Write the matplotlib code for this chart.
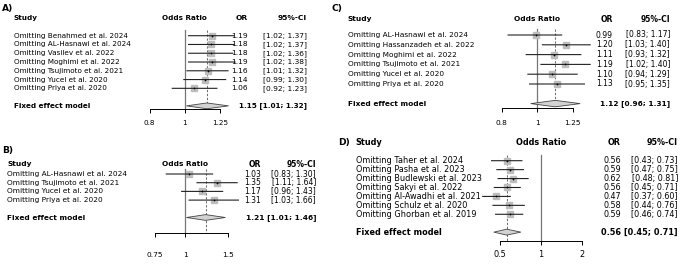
import matplotlib
matplotlib.use("Agg")
import matplotlib.pyplot as plt
from matplotlib import transforms
from matplotlib.ticker import NullLocator

W, H = 685, 264

# A) leave-one-out
a_studies = ["Omitting Benahmed et al. 2024", "Omitting AL-Hasnawi et al. 2024",
             "Omitting Vasilev et al. 2022", "Omitting Moghimi et al. 2022",
             "Omitting Tsujimoto et al. 2021", "Omitting Yucel et al. 2020",
             "Omitting Priya et al. 2020"]
a_or = [1.19, 1.18, 1.18, 1.19, 1.16, 1.14, 1.06]
a_lo = [1.02, 1.02, 1.02, 1.02, 1.01, 0.99, 0.92]
a_hi = [1.37, 1.37, 1.36, 1.38, 1.32, 1.30, 1.23]
a_fixed = [1.15, 1.01, 1.32]
a_ticks = [0.8, 1, 1.25]
a_ticklabels = ["0.8", "1", "1.25"]

# B)
b_studies = ["Omitting AL-Hasnawi et al. 2024", "Omitting Tsujimoto et al. 2021",
             "Omitting Yucel et al. 2020", "Omitting Priya et al. 2020"]
b_or = [1.03, 1.35, 1.17, 1.31]
b_lo = [0.83, 1.11, 0.96, 1.03]
b_hi = [1.30, 1.64, 1.43, 1.66]
b_fixed = [1.21, 1.01, 1.46]
b_ticks = [0.75, 1, 1.5]
b_ticklabels = ["0.75", "1", "1.5"]

# C)
c_studies = ["Omitting AL-Hasnawi et al. 2024", "Omitting Hassanzadeh et al. 2022",
             "Omitting Moghimi et al. 2022", "Omitting Tsujimoto et al. 2021",
             "Omitting Yucel et al. 2020", "Omitting Priya et al. 2020"]
c_or = [0.99, 1.20, 1.11, 1.19, 1.10, 1.13]
c_lo = [0.83, 1.03, 0.93, 1.02, 0.94, 0.95]
c_hi = [1.17, 1.40, 1.32, 1.40, 1.29, 1.35]
c_fixed = [1.12, 0.96, 1.31]
c_ticks = [0.8, 1, 1.25]
c_ticklabels = ["0.8", "1", "1.25"]

# D)
d_studies = ["Omitting Taher et al. 2024", "Omitting Pasha et al. 2023",
             "Omitting Budlewski et al. 2023", "Omitting Sakyi et al. 2022",
             "Omitting Al-Awadhi et al. 2021", "Omitting Schulz et al. 2020",
             "Omitting Ghorban et al. 2019"]
d_or = [0.56, 0.59, 0.62, 0.56, 0.47, 0.58, 0.59]
d_lo = [0.43, 0.47, 0.48, 0.45, 0.37, 0.44, 0.46]
d_hi = [0.73, 0.75, 0.81, 0.71, 0.60, 0.76, 0.74]
d_fixed = [0.56, 0.45, 0.71]
d_ticks = [0.5, 1, 2]
d_ticklabels = ["0.5", "1", "2"]


def forest(fig, letter, studies, est, lo, hi, fixed, ticks, ticklabels, lay):
    n = len(studies)
    sp = lay["sp"]
    fs = lay["fs"]
    nfs = lay.get("nfs", fs)
    top_row = -1.0
    axis_row = (lay["axis_y"] - lay["row0"]) / sp
    ytop = lay["row0"] + top_row * sp
    ax = fig.add_axes([lay["x0"] / W, 1 - lay["axis_y"] / H,
                       (lay["x1"] - lay["x0"]) / W, (lay["axis_y"] - ytop) / H])
    ax.set_xscale("log")
    ax.set_xlim(ticks[0], ticks[-1])
    ax.set_ylim(axis_row, top_row)
    ax.patch.set_visible(False)
    for s in ("left", "right", "top"):
        ax.spines[s].set_visible(False)
    ax.spines["bottom"].set_linewidth(0.7)
    ax.set_yticks([])
    ax.set_xticks(ticks)
    ax.xaxis.set_minor_locator(NullLocator())
    ax.set_xticklabels(ticklabels, fontsize=fs)
    ax.tick_params(axis="x", direction="out", length=3.2, width=0.7, pad=lay["pad"])

    rows = list(range(n))
    fix_row = n + 1
    ax.plot([1, 1], [-0.6, axis_row], color="#777777", lw=0.9, clip_on=False,
            zorder=1)
    ax.plot([fixed[0], fixed[0]], [-0.6, axis_row], color="#6f6f6f", lw=0.75,
            ls=(0, (2.2, 1.6)), clip_on=False, zorder=1)
    for i in rows:
        ax.plot([lo[i], hi[i]], [i, i], color="#222222", lw=0.8, clip_on=False,
                solid_capstyle="butt", snap=False, zorder=3)
    ax.plot(est, rows, ls="none", marker="s", ms=4.4, mfc="#bdbdbd", mec="#bdbdbd",
            clip_on=False, zorder=2)
    ax.plot(est, rows, ls="none", marker="+", ms=1.6, mew=0.5, color="black",
            clip_on=False, zorder=4)
    h = 0.33
    ax.fill([fixed[1], fixed[0], fixed[2], fixed[0]],
            [fix_row, fix_row - h, fix_row, fix_row + h],
            facecolor="#d3d3d3", edgecolor="#444444", lw=0.6, clip_on=False)

    tr = transforms.blended_transform_factory(fig.transFigure, ax.transData)
    hdr = (lay["hdr_y"] - lay["row0"]) / sp
    fig.text(lay["let_x"] / W, 1 - lay["let_y"] / H, letter, fontsize=6.6,
             fontweight="bold", va="center", ha="left")
    ax.text(lay["lab_x"] / W, hdr, "Study", transform=tr, ha="left", va="center",
            fontsize=fs, fontweight="bold")
    ax.text(1, hdr, "Odds Ratio", transform=ax.transData, ha="center", va="center",
            clip_on=False, fontsize=fs, fontweight="bold")
    ax.text(lay["or_x"] / W, hdr, "OR", transform=tr, ha="right", va="center",
            fontsize=nfs, fontweight="bold")
    ax.text(lay["ci_x"] / W, hdr, "95%-CI", transform=tr, ha="right", va="center",
            fontsize=nfs, fontweight="bold")
    for i in rows:
        ax.text(lay["lab_x"] / W, i, studies[i], transform=tr, ha="left", va="center",
                fontsize=fs)
        ax.text(lay["or_x"] / W, i, f"{est[i]:.2f}", transform=tr, ha="right",
                va="center", fontsize=nfs)
        ax.text(lay["ci_x"] / W, i, f"[{lo[i]:.2f}; {hi[i]:.2f}]", transform=tr,
                ha="right", va="center", fontsize=nfs)
    ax.text(lay["lab_x"] / W, fix_row, "Fixed effect model", transform=tr, ha="left",
            va="center", fontsize=fs, fontweight="bold")
    ax.text(lay["ci_x"] / W, fix_row,
            f"{fixed[0]:.2f} [{fixed[1]:.2f}; {fixed[2]:.2f}]", transform=tr,
            ha="right", va="center", fontsize=fs, fontweight="bold")
    return ax


fig = plt.figure(figsize=(W / 100, H / 100), dpi=100)

forest(fig, "A)", a_studies, a_or, a_lo, a_hi, a_fixed, a_ticks, a_ticklabels,
       dict(x0=149.7, x1=220, row0=35.7, sp=8.77, axis_y=109, hdr_y=18, pad=5,
            fs=5.2, nfs=5.4, lab_x=14, or_x=247.5, ci_x=307, let_x=2, let_y=8))
forest(fig, "B)", b_studies, b_or, b_lo, b_hi, b_fixed, b_ticks, b_ticklabels,
       dict(x0=155, x1=228.3, row0=174, sp=8.7, axis_y=232.5, hdr_y=164.3, pad=11,
            fs=5.3, nfs=5.5, lab_x=7, or_x=261, ci_x=316, let_x=2, let_y=150))
forest(fig, "C)", c_studies, c_or, c_lo, c_hi, c_fixed, c_ticks, c_ticklabels,
       dict(x0=501.7, x1=572.7, row0=35, sp=9.8, axis_y=108.3, hdr_y=19, pad=5,
            fs=5.35, nfs=5.5, lab_x=347.7, or_x=613, ci_x=670, let_x=332, let_y=8))
forest(fig, "D)", d_studies, d_or, d_lo, d_hi, d_fixed, d_ticks, d_ticklabels,
       dict(x0=500, x1=582.3, row0=160.7, sp=8.93, axis_y=241, hdr_y=142.3, pad=3,
            fs=5.9, nfs=5.75, lab_x=355.7, or_x=621, ci_x=678, let_x=338, let_y=142))

fig.savefig("out.png", dpi=100)
